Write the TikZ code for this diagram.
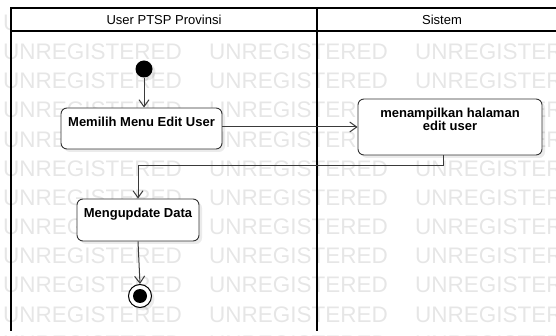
\documentclass[tikz,border=0pt]{standalone}
\usepackage{fontspec}
\setmainfont{Liberation Sans}
\usetikzlibrary{arrows.meta,shadows}

\definecolor{wmgray}{HTML}{E6E6E6}
\definecolor{edgegray}{HTML}{3A3A3A}
\definecolor{boxline}{HTML}{333333}

\tikzset{
  lane/.style={line width=1.4pt, draw=black},
  action/.style={draw=boxline, line width=0.9pt, fill=white, rounded corners=6pt,
    inner sep=0pt, drop shadow={shadow xshift=3pt, shadow yshift=-3pt, opacity=0.08, fill=black}},
  actiontext/.style={anchor=north, inner sep=0pt, align=center, yshift=-9pt,
    font=\fontsize{13}{13.4}\selectfont\bfseries},
  flow/.style={draw=edgegray, line width=1pt, -{Straight Barb[length=7pt,width=10pt,line width=1pt]}},
  lanetitle/.style={inner sep=0pt, font=\fontsize{13}{13}\selectfont},
  watermark/.style={anchor=base west, inner sep=0pt, text=wmgray,
    font=\fontsize{22.5}{22.5}\selectfont},
  startdot/.style={circle, fill=black, minimum size=17pt, inner sep=0pt,
    drop shadow={shadow xshift=3pt, shadow yshift=-3pt, opacity=0.08, fill=black}},
}

\begin{document}
\begin{tikzpicture}[x=1pt, y=-1pt]
  \useasboundingbox (0,0) rectangle (556,336);
  \clip (0,0) rectangle (556,336);

  % tool watermark behind the diagram
  \foreach \k in {0,...,11} {
    \foreach \j in {0,1,2} {
      \node[watermark] (wm-\k-\j) at ({3+206*\j},{30.5+29.15*\k}) {UNREGISTERED};
    }
  }

  % swimlane frame with header row
  \fill[white] (11,8) rectangle (560,31);
  \draw[lane] (560,8) -- (11,8) -- (11,331);
  \draw[lane] (11,31) -- (560,31);
  \draw[lane] (317,8) -- (317,331);
  \node[lanetitle] (lane1) at (164,19.5) {User PTSP Provinsi};
  \node[lanetitle] (lane2) at (442,19.5) {Sistem};

  % initial node
  \node[startdot] (start) at (144,69) {};

  % actions
  \node[action, minimum width=161pt, minimum height=41pt] (act1) at (141.5,128.5) {};
  \node[actiontext] (act1txt) at (act1.north) {Memilih Menu Edit User};

  \node[action, minimum width=184pt, minimum height=56pt] (act2) at (450,127) {};
  \node[actiontext] (act2txt) at (act2.north) {menampilkan halaman\\edit user};

  \node[action, minimum width=122pt, minimum height=42pt] (act3) at (138,220) {};
  \node[actiontext] (act3txt) at (act3.north) {Mengupdate Data};

  % final node
  \node[circle, draw=black, line width=1pt, fill=white, minimum size=23pt, inner sep=0pt,
        drop shadow={shadow xshift=3pt, shadow yshift=-3pt, opacity=0.08, fill=black}]
        (final) at (140,296) {};
  \node[circle, fill=black, minimum size=14pt, inner sep=0pt] (finalcore) at (final) {};

  % control flows
  \draw[flow] (start) -- (start |- act1.north);
  \draw[flow] (act1.east |- act2.west) -- (act2.west);
  \coordinate (bendR) at (443,165.5);
  \coordinate (bendL) at (138,165.5);
  \draw[flow] (act2.south -| bendR) -- (bendR) -- (bendL) -- (act3.north);
  \draw[flow] (act3.south) -- (final.north);
\end{tikzpicture}
\end{document}
